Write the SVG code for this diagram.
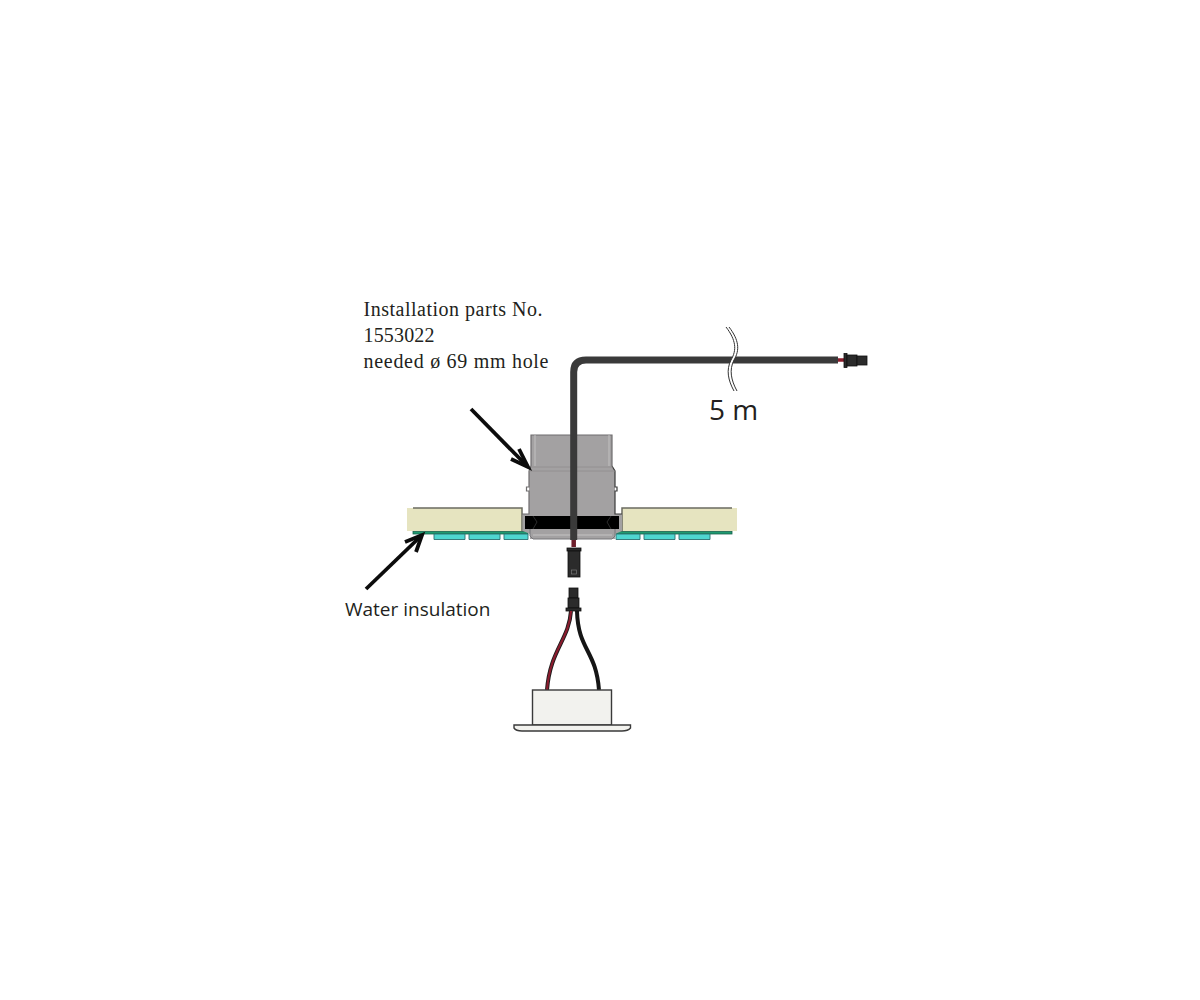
<svg xmlns="http://www.w3.org/2000/svg" width="1200" height="1000" viewBox="0 0 1200 1000">
<style>
.serif{font-family:"Liberation Serif",serif;font-size:20px;fill:#231f20}
.sans{font-family:"Open Sans","Noto Sans",sans-serif;fill:#231f20}
.beige{fill:#e6e4c0;stroke:none}
.top{stroke:#6b6b60;stroke-width:1.5;fill:none}
.green{fill:#1f9a70;stroke:#17604a;stroke-width:.8}
.cyan{fill:#4fd6d0;stroke:#2d6f70;stroke-width:.9}
.ln{fill:none;stroke:#3a3a3a;stroke-width:1.2}
.arrow{fill:none;stroke:#0c0c0c;stroke-width:3.8}
.conn{fill:#2b2b2b;stroke:#111;stroke-width:.8}
</style>
<rect width="1200" height="1000" fill="#fff"/>
<g id="insulation-left">
<rect class="beige" x="407" y="508" width="115" height="23"/>
<path class="top" d="M413 508H522V531"/>
<rect class="green" x="413" y="531.500" width="115" height="2.500"/>
<path class="cyan" d="M434 534H465V539.500H434Z"/>
<path class="cyan" d="M469 534H500V539.500H469Z"/>
<path class="cyan" d="M504 534H528V539.500H504Z"/>
</g>
<g id="insulation-right">
<rect class="beige" x="622" y="508" width="115" height="23"/>
<path class="top" d="M732 508H622V531"/>
<rect class="green" x="616" y="531.500" width="116" height="2.500"/>
<path class="cyan" d="M616 534H640V539.500H616Z"/>
<path class="cyan" d="M644 534H675V539.500H644Z"/>
<path class="cyan" d="M679 534H710V539.500H679Z"/>
</g>
<g id="housing">
<path d="M531 435H612V466L615 471V514H622V531L615 534V539H530V534L523 531V514H529V471L531 466Z" fill="#a3a1a2"/>
<path d="M531 466V435H612V466" fill="none" stroke="#6f6d6e" stroke-width="1.200"/>
<path class="ln" d="M612 466L615 471V487H617V491H615V514H622"/>
<path d="M531 466L529 471V487H526.500V491H529V514H522" fill="none" stroke="#6f6d6e" stroke-width="1.200"/>
<path d="M535 435V466M609 435V466" stroke="#c2c1c1" stroke-width="1" fill="none"/>
<path d="M531 467H613M529 471H615" stroke="#8f8d8e" stroke-width=".8" fill="none"/>
<rect x="525" y="516" width="94" height="13" fill="#000"/>
<path d="M533 516L537 522L533 529M611 516L607 522L611 529" stroke="#2c2c2c" stroke-width="1" fill="none"/>
<path d="M530 529V536L533 539H612L615 536V529" stroke="#77767a" stroke-width="1" fill="none"/>
<path d="M533 535H612" stroke="#c4c3c3" stroke-width="1" fill="none"/>
</g>
<g id="arrows">
<path class="arrow" d="M471 409L527 466"/>
<path class="arrow" d="M511 459L528 467L519 449"/>
<path class="arrow" d="M366 589L421 536"/>
<path class="arrow" d="M405 542L422 535L416 552"/>
</g>
<g id="cable">
<path d="M573.700 540V372Q573.700 360 586 360H838" fill="none" stroke="#3a3a3a" stroke-width="7"/>
<path d="M573.700 540V547" stroke="#6e1f2c" stroke-width="4.500" fill="none"/>
<path d="M838 360H845" stroke="#8c1d2c" stroke-width="3.500" fill="none"/>
<path d="M727.500 327C737.500 340 738.500 350 732.500 360C727.500 370 729.500 380 735.500 391" fill="none" stroke="#fff" stroke-width="2.500"/>
<path d="M726 327C736 340 737 350 731 360C726 370 728 380 734 391" fill="none" stroke="#333" stroke-width="1"/>
<path d="M729 327C739 340 740 350 734 360C729 370 731 380 737 391" fill="none" stroke="#333" stroke-width="1"/>
</g>
<g id="connector-top">
<rect class="conn" x="844" y="353.500" width="3" height="14"/>
<rect class="conn" x="847" y="355" width="10" height="11"/>
<rect class="conn" x="857" y="356" width="10" height="9"/>
</g>
<g id="connector-mid">
<rect class="conn" x="567" y="548" width="14" height="3"/>
<rect class="conn" x="568" y="551" width="12" height="26"/>
<rect x="571.500" y="570" width="5" height="4" fill="none" stroke="#777" stroke-width=".7"/>
</g>
<g id="connector-lower">
<rect class="conn" x="569" y="588" width="9" height="10"/>
<rect class="conn" x="568" y="598" width="11" height="10"/>
<rect class="conn" x="566" y="608" width="15" height="3"/>
</g>
<g id="wires">
<path d="M571 611C569 640 550 650 547 690" fill="none" stroke="#1c1c1c" stroke-width="4"/>
<path d="M571 611C569 640 550 650 547 690" fill="none" stroke="#8a1c2e" stroke-width="2.200"/>
<path d="M577 611C578 650 596 650 599 690" fill="none" stroke="#151515" stroke-width="4"/>
</g>
<g id="luminaire">
<rect x="532.500" y="690" width="79" height="35" fill="#f2f2ee" stroke="#3a3a3a" stroke-width="1.400"/>
<path d="M514 725H630.500V728Q628 731 622 731H522Q516 731 514 728Z" fill="#f2f2ee" stroke="#3a3a3a" stroke-width="1.400"/>
</g>
<g id="labels">
<text class="serif" x="363.500" y="316" textLength="179" lengthAdjust="spacing">Installation parts No.</text>
<text class="serif" x="363.500" y="342" textLength="71" lengthAdjust="spacing">1553022</text>
<text class="serif" x="363.500" y="368" textLength="185" lengthAdjust="spacing">needed ø 69 mm hole</text>
<text class="sans" x="345" y="616" font-size="19">Water insulation</text>
<text class="sans" x="709" y="420" font-size="28">5 m</text>
</g>
</svg>
